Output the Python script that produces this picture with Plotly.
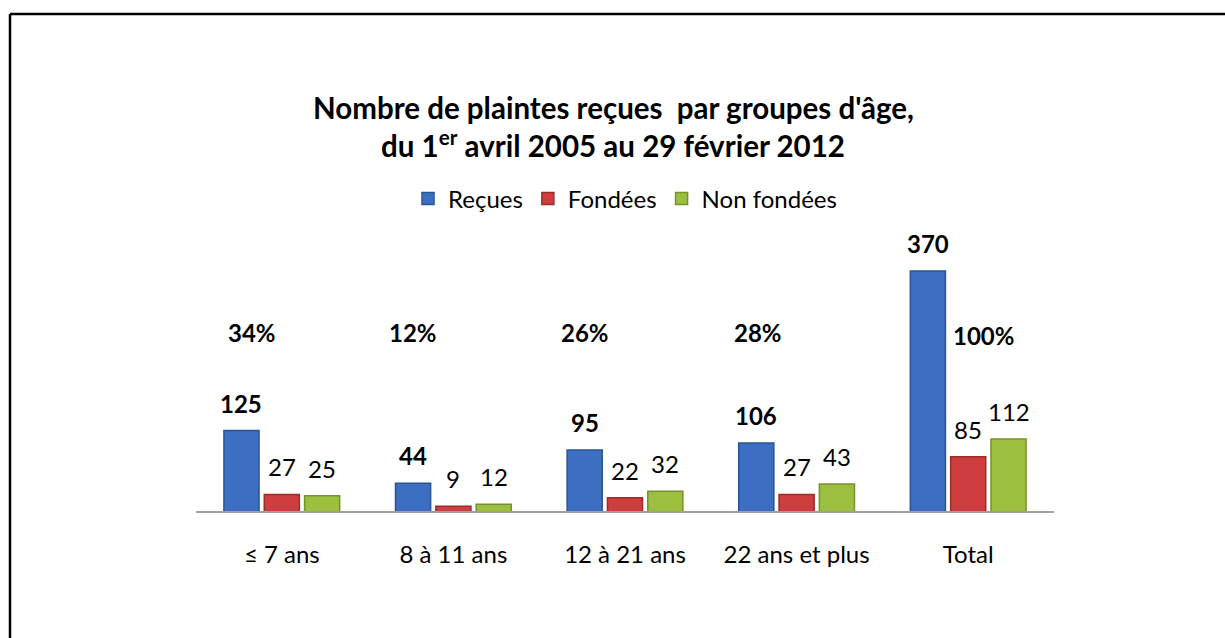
import plotly.graph_objects as go

categories = ["≤ 7 ans", "8 à 11 ans", "12 à 21 ans", "22 ans et plus", "Total"]
recues = [125, 44, 95, 106, 370]
fondees = [27, 9, 22, 27, 85]
non_fondees = [25, 12, 32, 43, 112]
percents = ["34%", "12%", "26%", "28%", "100%"]
percent_y = [275, 275, 275, 275, 271]
percent_dx = [-0.175, -0.233, -0.233, -0.227, 0.087]

series = [
    ("Reçues", recues, "#3C6FC1", "#2A5396", True),
    ("Fondées", fondees, "#CE3E3E", "#9E2B2B", False),
    ("Non fondées", non_fondees, "#9CBF3F", "#76922C", False),
]

FONT = "Lato"
W, H = 1225, 638
L, R, T, B = 196, 171, 230, 126
plot_h = H - T - B
px_per_unit = 241 / 370
ymax = plot_h / px_per_unit


def px_to_paper_x(px):
    return (px - L) / (W - L - R)


def px_to_paper_y(py):
    return (H - B - py) / plot_h


xs = list(range(len(categories)))
fig = go.Figure()
for name, vals, col, lcol, bold in series:
    fig.add_trace(go.Bar(
        name=name, x=xs, y=vals,
        marker=dict(color=col, line=dict(color=lcol, width=1.5)),
        hoverinfo="skip",
    ))

bargap = 0.295
bargroupgap = 0.13
slot = (1 - bargap) / 3
annotations = []
for k, (name, vals, col, lcol, bold) in enumerate(series):
    for i, v in enumerate(vals):
        txt = f"<b>{v}</b>" if bold else str(v)
        annotations.append(dict(
            x=i + (k - 1) * slot, y=v, xref="x", yref="y",
            text=txt, showarrow=False, yanchor="bottom", yshift=11,
            font=dict(family=FONT, size=24, color="#000000"),
        ))
for i, p in enumerate(percents):
    annotations.append(dict(
        x=i + percent_dx[i], y=percent_y[i], xref="x", yref="y",
        text=f"<b>{p}</b>", showarrow=False, yanchor="middle",
        font=dict(family=FONT, size=24, color="#000000"),
    ))
# title lines
annotations.append(dict(
    x=px_to_paper_x(613), y=px_to_paper_y(108), xref="paper", yref="paper",
    text="<b>Nombre de plaintes reçues  par groupes d'âge,</b>",
    showarrow=False, yanchor="middle", xanchor="center",
    font=dict(family=FONT, size=29.5, color="#000000"),
))
annotations.append(dict(
    x=px_to_paper_x(613), y=px_to_paper_y(144), xref="paper", yref="paper",
    text="<b>du 1<sup>er</sup> avril 2005 au 29 février 2012</b>",
    showarrow=False, yanchor="middle", xanchor="center",
    font=dict(family=FONT, size=29.5, color="#000000"),
))

shapes = [
    dict(type="line", xref="paper", yref="paper",
         x0=px_to_paper_x(10), x1=px_to_paper_x(1240),
         y0=px_to_paper_y(14), y1=px_to_paper_y(14),
         line=dict(color="#000000", width=2.5)),
    dict(type="line", xref="paper", yref="paper",
         x0=px_to_paper_x(10), x1=px_to_paper_x(10),
         y0=px_to_paper_y(14), y1=px_to_paper_y(660),
         line=dict(color="#000000", width=2.5)),
    dict(type="line", xref="paper", yref="paper", x0=0, x1=1,
         y0=0, y1=0, line=dict(color="#A0A0A0", width=2)),
]

fig.update_layout(
    width=W, height=H,
    margin=dict(l=L, r=R, t=T, b=B),
    paper_bgcolor="#FFFFFF", plot_bgcolor="#FFFFFF",
    barmode="group", bargap=bargap, bargroupgap=bargroupgap,
    font=dict(family=FONT, size=24, color="#000000"),
    showlegend=True,
    legend=dict(orientation="h", x=0.5, xanchor="center",
                y=px_to_paper_y(199), yanchor="middle",
                font=dict(family=FONT, size=24),
                itemwidth=30, traceorder="normal"),
    xaxis=dict(tickvals=xs, ticktext=categories, range=[-0.5, len(categories) - 0.5],
               showgrid=False, zeroline=False, showline=False,
               ticks="", ticklabelstandoff=26,
               tickfont=dict(family=FONT, size=24)),
    yaxis=dict(range=[0, ymax], visible=False, showgrid=False, zeroline=False),
    annotations=annotations,
    shapes=shapes,
)

fig.write_html("out.html", config={"displayModeBar": False},
               post_script="document.body.style.margin='0';")
